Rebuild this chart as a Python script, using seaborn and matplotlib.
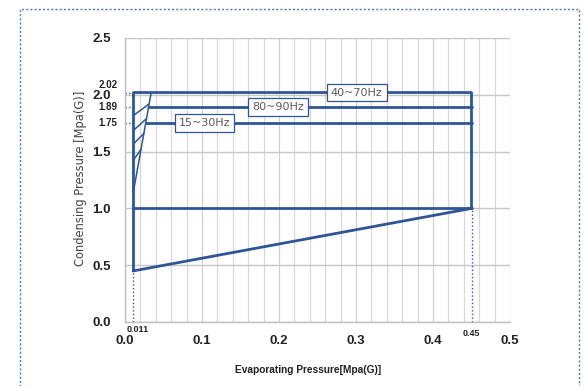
import numpy as np
import pandas as pd
import matplotlib
matplotlib.use("Agg")
import matplotlib.pyplot as plt
import matplotlib.patches as mpatches
import seaborn as sns

# ---- data ----
env_x = [0.011, 0.45, 0.45, 0.011, 0.011]
env_y = [0.45, 1.0, 2.02, 2.02, 0.45]
mid_x = [0.011, 0.45]
mid_y = [1.0, 1.0]
l189_x = [0.031, 0.45]
l189_y = [1.89, 1.89]
l175_x = [0.027, 0.45]
l175_y = [1.75, 1.75]
slant_x = [0.011, 0.034]
slant_y = [1.15, 2.02]
hatch_y0 = [1.43, 1.57, 1.69, 1.82]
hatch_y1 = [1.52, 1.66, 1.79, 1.92]
band_labels = ["40~70Hz", "80~90Hz", "15~30Hz"]
band_label_x = [0.301, 0.199, 0.103]
band_label_y = [2.02, 1.89, 1.75]
extra_y_ticks = [2.02, 1.89, 1.75]
extra_y_labels = ["2.02", "1.89", "1.75"]
extra_x_ticks = [0.011, 0.45]
extra_x_labels = ["0.011", "0.45"]
x_ticks = [0.0, 0.1, 0.2, 0.3, 0.4, 0.5]
y_ticks = [0.0, 0.5, 1.0, 1.5, 2.0, 2.5]

BLUE = "#2F5597"

sns.set_theme(style="white")
plt.rcParams["font.family"] = ["Liberation Sans", "DejaVu Sans"]

fig = plt.figure(figsize=(5.85, 3.86), dpi=100)
ax = fig.add_axes([125/585, 1-322/386, 385/585, 284/386])

# grid
ax.set_xlim(0, 0.5)
ax.set_ylim(0, 2.5)
ax.set_xticks(x_ticks)
ax.set_yticks(y_ticks)
ax.set_xticks(np.round(np.arange(0, 0.5001, 0.02), 2), minor=True)
ax.set_yticks(np.round(np.arange(0, 2.5001, 0.1), 2), minor=True)
ax.grid(which="minor", axis="x", color="#d9d9d9", linewidth=0.9)
ax.grid(which="major", axis="x", color="#d0d0d0", linewidth=0.9)
ax.grid(which="major", axis="y", color="#c6c6c6", linewidth=1.0)
ax.set_axisbelow(True)
for s in ["top", "right"]:
    ax.spines[s].set_visible(False)
for s in ["left", "bottom"]:
    ax.spines[s].set_color("#bfbfbf")
    ax.spines[s].set_linewidth(1.0)
ax.tick_params(axis="x", which="major", direction="out", length=5, width=0.8,
               color="#bfbfbf", pad=4, labelsize=9.5)
ax.tick_params(axis="x", which="minor", length=0)
ax.tick_params(axis="y", which="major", direction="out", length=5, width=0.8,
               color="#bfbfbf", pad=5, labelsize=9.5)
ax.tick_params(axis="y", which="minor", direction="out", length=4, width=0.8,
               color="#bfbfbf")
ax.set_xticklabels([f"{v:.1f}" for v in x_ticks], fontweight="bold", color="#222222")
ax.set_yticklabels([f"{v:.1f}" for v in y_ticks], fontweight="bold", color="#222222")

# main lines via seaborn
def sline(x, y, lw, ls="-"):
    df = pd.DataFrame({"x": x, "y": y})
    sns.lineplot(data=df, x="x", y="y", sort=False, estimator=None, ax=ax,
                 color=BLUE, linewidth=lw, linestyle=ls, legend=False)

sline(env_x, env_y, 2.0)
sline(mid_x, mid_y, 2.0)
sline(l189_x, l189_y, 2.0)
sline(l175_x, l175_y, 2.0)
sline(slant_x, slant_y, 1.1)
for y0, y1 in zip(hatch_y0, hatch_y1):
    x1 = float(np.interp(y1, slant_y, slant_x))
    sline([env_x[0] + 0.0005, x1], [y0, y1], 1.1)

# dotted guides
sline([extra_x_ticks[0], extra_x_ticks[0]], [0, env_y[0]], 1.0, ":")
sline([extra_x_ticks[1], extra_x_ticks[1]], [0, env_y[1]], 1.0, ":")
for yv in extra_y_ticks:
    sline([0, env_x[0]], [yv, yv], 1.0, ":")

ax.set_xlabel("")
ax.set_ylabel("")

# band labels
for t, xv, yv in zip(band_labels, band_label_x, band_label_y):
    ax.text(xv, yv, t, ha="center", va="center", fontsize=8, color="#595959",
            family=["DejaVu Sans"],
            bbox=dict(boxstyle="square,pad=0.35", facecolor="white",
                      edgecolor=BLUE, linewidth=0.9), zorder=5)

# extra tick labels
for yv, t, dy in zip(extra_y_ticks, extra_y_labels, [0.07, 0.0, 0.0]):
    ax.text(-0.01, yv + dy, t, ha="right", va="center", fontsize=7,
            fontweight="bold", color="#222222", clip_on=False)
ax.text(extra_x_ticks[0] + 0.005, -0.03, extra_x_labels[0], ha="center", va="top",
        fontsize=6.5, fontweight="bold", color="#222222", clip_on=False)
ax.text(extra_x_ticks[1], -0.06, extra_x_labels[1], ha="center", va="top",
        fontsize=6.5, fontweight="bold", color="#222222", clip_on=False)

# axis titles
fig.text(80/585, 1-178/386, "Condensing Pressure [Mpa(G)]", rotation=90,
         ha="center", va="center", fontsize=8.3, color="#444444",
         family=["DejaVu Sans"])
fig.text(308/585, 1-370/386, "Evaporating Pressure[Mpa(G)]", ha="center",
         va="center", fontsize=7.3, fontweight="bold", color="#222222")

# dotted frame around figure
frame = mpatches.Rectangle((20/585, -0.1), (579-20)/585, 1-9/386+0.1,
                           transform=fig.transFigure, fill=False,
                           edgecolor="#4a78b8", linewidth=1.0, linestyle=(0, (1.5, 1.5)),
                           clip_on=False)
fig.patches.append(frame)

fig.savefig("out.png", dpi=100)
